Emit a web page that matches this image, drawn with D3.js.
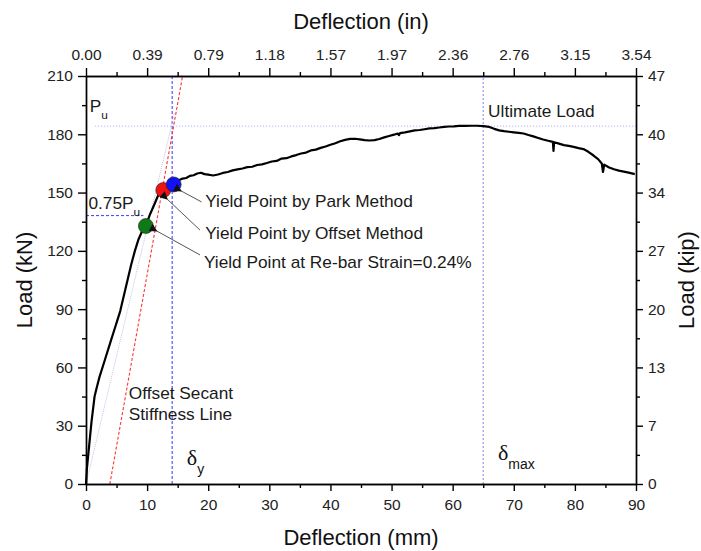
<!doctype html>
<html>
<head>
<meta charset="utf-8" />
<title>Load – deflection curve</title>
<style>
  html,body{margin:0;background:#fff}
  svg{display:block;font-family:"Liberation Sans", Arial, sans-serif}
  .axis path,.axis line{stroke:#000;stroke-width:1.4}
  .axis text{font-size:15.5px;fill:#222;font-family:"Liberation Sans", Arial, sans-serif}
  .note{font-size:16px;fill:#1a1a1a}
  .title{font-size:22px;fill:#111}
  .greek{font-family:"Liberation Serif","DejaVu Serif",serif;font-size:22px;fill:#111}
</style>
</head>
<body>
<svg id="chart" width="701" height="551"></svg>

<script src="https://cdn.jsdelivr.net/npm/d3@7"></script>
<script>
/* ── data ── */
const deflection = [0,0.15,0.4,0.9,1.4,1.75,2.2,2.8,3.3,4.0,4.6,5.1,5.6,6.2,6.8,7.4,8.0,8.6,9.3,9.9,
  10.5,11.2,11.8,12.4,12.8,13.4,14.0,14.6,15.2,15.8,16.4,17.0,17.6,18.2,18.8,19.4,20.0,20.8,21.6,22.4,
  23.2,24.0,24.8,25.6,26.4,27.2,28.0,28.8,29.6,30.4,31.2,32.0,32.8,33.6,34.4,35.2,36.0,36.8,37.6,38.4,
  39.2,40.0,40.8,41.6,42.4,43.2,44.0,44.8,45.6,46.4,47.2,48.0,48.8,49.6,50.4,51.0,51.2,51.4,52.2,53.0,
  53.8,54.6,55.4,56.2,57.0,57.8,58.6,59.4,60.2,61.0,62.0,63.0,64.0,65.0,66.0,66.8,67.6,68.4,69.2,70.0,
  70.8,71.6,72.4,73.2,74.0,74.8,75.6,76.4,76.5,76.6,77.4,78.2,79.0,79.8,80.6,81.4,82.2,83.0,83.8,84.4,
  84.6,84.8,85.6,86.4,87.2,88.0,88.8,89.8];
const load = [0,8,16,32,45,49.5,55,61,66,73,79,84,89,97,105,113,120,126,131,134,
  139,144,148.5,151,152.5,153.5,154.2,155.5,156.3,157.2,157.5,158.6,158.9,159.8,160.2,159.5,159.2,158.8,159.3,160.1,
  160.6,161.4,161.9,162.4,163.1,163.3,164.2,164.5,165.2,166.0,166.3,167.5,167.7,168.6,169.3,170.1,170.6,171.7,172.1,173.0,
  173.7,174.6,175.4,176.4,177.1,177.6,177.7,177.4,177.0,176.8,177.0,177.6,178.4,179.1,179.8,180.4,179.6,180.6,181.0,181.5,
  182.0,182.2,182.6,183.0,183.2,183.5,183.8,184.0,184.1,184.3,184.3,184.4,184.4,184.2,183.8,182.8,182.0,181.6,181.3,181.0,
  180.7,180.4,179.6,178.9,178.1,177.3,176.7,176.1,171.5,175.9,175.2,174.4,174.0,173.5,172.9,172.4,171.0,169.2,167.2,165.0,
  160.6,164.4,162.9,162.0,161.3,160.8,160.3,159.5];

const mmTicks    = [0,10,20,30,40,50,60,70,80,90];
const mmMinor    = [5,15,25,35,45,55,65,75,85];
const inchLabels = ["0.00","0.39","0.79","1.18","1.57","1.97","2.36","2.76","3.15","3.54"];
const kNTicks    = [0,30,60,90,120,150,180,210];
const kNMinor    = [15,45,75,105,135,165,195];
const kipLabels  = ["0","7","13","20","27","34","40","47"];

const Pu = 184.2;
const deltaY = 14.1, deltaMax = 65;
const offsetLine = [[3.9,0],[15.8,210]];
const secantLine = [[0,0],[14.5,191]];
const yieldNames  = ["Yield Point at Re-bar Strain=0.24%","Yield Point by Offset Method","Yield Point by Park Method"];
const yieldX      = [9.8,12.65,14.35];
const yieldY      = [132.8,151.3,154.2];
const yieldColors = ["#0e7a16","#f01212","#1212f2"];

/* ── layout ── */
const svg = d3.select('#chart');
const x = d3.scaleLinear([0,90],[86,636]);
const y = d3.scaleLinear([0,210],[484,76]);

// reference lines
const g = svg.append('g');
g.append('line').attr('x1',x(1.5)).attr('x2',x(90)).attr('y1',y(Pu)).attr('y2',y(Pu))
  .attr('stroke','#a6a6ff').attr('stroke-width',1).attr('stroke-dasharray','1,2');
g.append('line').attr('x1',x(0)).attr('x2',x(9.4)).attr('y1',y(0.75*Pu)).attr('y2',y(0.75*Pu))
  .attr('stroke','#3c3cff').attr('stroke-width',1).attr('stroke-dasharray','3,2');
g.append('line').attr('x1',x(deltaY)).attr('x2',x(deltaY)).attr('y1',y(0)).attr('y2',y(210))
  .attr('stroke','#4848ff').attr('stroke-width',1.1).attr('stroke-dasharray','3,2');
g.append('line').attr('x1',x(deltaMax)).attr('x2',x(deltaMax)).attr('y1',y(0)).attr('y2',y(210))
  .attr('stroke','#8c8cff').attr('stroke-width',1.1).attr('stroke-dasharray','2,2');

const seg = d3.line().x(d=>x(d[0])).y(d=>y(d[1]));
g.append('path').attr('d',seg(secantLine)).attr('fill','none')
  .attr('stroke','#c4c4e6').attr('stroke-width',1).attr('stroke-dasharray','1,1');
g.append('path').attr('d',seg(offsetLine)).attr('fill','none')
  .attr('stroke','#ff3434').attr('stroke-width',1.1).attr('stroke-dasharray','3,2');

// curve
const curve = d3.line().x(i=>x(deflection[i])).y(i=>y(load[i]));
g.append('path').attr('d',curve(d3.range(deflection.length))).attr('fill','none')
  .attr('stroke','#000').attr('stroke-width',2.2).attr('stroke-linejoin','round');

// yield points
g.selectAll('circle.yp').data(d3.range(yieldX.length)).join('circle')
  .attr('class','yp').attr('cx',i=>x(yieldX[i])).attr('cy',i=>y(yieldY[i])).attr('r',7.5)
  .attr('fill',i=>yieldColors[i]).attr('stroke','#222').attr('stroke-width',0.6);

// axes
function axis(gen, tr){
  return svg.append('g').attr('class','axis').attr('transform',tr).call(gen);
}
axis(d3.axisBottom(x).tickValues(mmTicks).tickSize(7).tickPadding(8).tickSizeOuter(0), `translate(0,${y(0)})`);
axis(d3.axisBottom(x).tickValues(mmMinor).tickSize(4).tickFormat('').tickSizeOuter(0), `translate(0,${y(0)})`);
axis(d3.axisTop(x).tickValues(mmTicks).tickFormat((d,i)=>inchLabels[i]).tickSize(8).tickPadding(8).tickSizeOuter(0), `translate(0,${y(210)})`);
axis(d3.axisTop(x).tickValues(mmMinor).tickSize(4).tickFormat('').tickSizeOuter(0), `translate(0,${y(210)})`);
axis(d3.axisLeft(y).tickValues(kNTicks).tickSize(8).tickPadding(5).tickSizeOuter(0), `translate(${x(0)},0)`);
axis(d3.axisLeft(y).tickValues(kNMinor).tickSize(4).tickFormat('').tickSizeOuter(0), `translate(${x(0)},0)`);
axis(d3.axisRight(y).tickValues(kNTicks).tickFormat((d,i)=>kipLabels[i]).tickSize(7).tickPadding(5).tickSizeOuter(0), `translate(${x(90)},0)`);
axis(d3.axisRight(y).tickValues(kNMinor).tickSize(4).tickFormat('').tickSizeOuter(0), `translate(${x(90)},0)`);

// axis titles
svg.append('text').attr('class','title').attr('x',x(45)).attr('y',545).attr('text-anchor','middle').text('Deflection (mm)');
svg.append('text').attr('class','title').attr('x',x(45)).attr('y',29).attr('text-anchor','middle').text('Deflection (in)');
svg.append('text').attr('class','title').attr('text-anchor','middle')
  .attr('transform',`translate(32,${y(105)}) rotate(-90)`).text('Load (kN)');
svg.append('text').attr('class','title').attr('text-anchor','middle')
  .attr('transform',`translate(694,${y(105)}) rotate(-90)`).text('Load (kip)');

// annotations
function note(px, py, txt, sub, size){
  const t = svg.append('text').attr('class','note')
    .attr('transform',`translate(${px},${py}) scale(1.08,1)`).style('font-size',(size||16)+'px');
  t.append('tspan').text(txt);
  if (sub) t.append('tspan').attr('dy',7).style('font-size','11px').text(sub);
  return t;
}
note(x(0.6), y(191.5), 'P', 'u');
note(x(0.4), y(141.5), '0.75P', 'u');
note(x(65.8), y(189.1), 'Ultimate Load');
note(x(7.0), y(43.7), 'Offset Secant');
note(x(7.0), y(32.9), 'Stiffness Line');

const arrowFrom = [[18.65,117.9],[18.65,130.7],[18.9,145.2]];
const arrowTo   = [[11.6,130.2],[13.3,146.6],[15.6,150.8]];
const labelAt   = [[19.3,111.0],[19.5,126.3],[19.5,142.6]];

svg.append('defs').append('marker').attr('id','ah')
  .attr('viewBox','0 0 10 10').attr('refX',1).attr('refY',5)
  .attr('markerWidth',11).attr('markerHeight',8).attr('markerUnits','userSpaceOnUse')
  .attr('orient','auto-start-reverse')
  .append('path').attr('d','M0,5 L10,0 L10,10 Z').attr('fill','#111');

yieldNames.forEach((name,i)=>{
  svg.append('line')
    .attr('x1',x(arrowTo[i][0])).attr('y1',y(arrowTo[i][1]))
    .attr('x2',x(arrowFrom[i][0])).attr('y2',y(arrowFrom[i][1]))
    .attr('stroke','#555').attr('stroke-width',1)
    .attr('marker-start','url(#ah)');
  note(x(labelAt[i][0]), y(labelAt[i][1]), name);
});

// delta labels
const dy = svg.append('text').attr('class','greek').attr('x',x(16.5)).attr('y',y(9.8));
dy.append('tspan').text('δ');
dy.append('tspan').attr('dy',9).style('font-family','"Liberation Sans", Arial, sans-serif').style('font-size','14px').text('y');
const dm = svg.append('text').attr('class','greek').attr('x',x(67.4)).attr('y',y(12.4));
dm.append('tspan').text('δ');
dm.append('tspan').attr('dy',9).style('font-family','"Liberation Sans", Arial, sans-serif').style('font-size','14px').text('max');
</script>
</body>
</html>
